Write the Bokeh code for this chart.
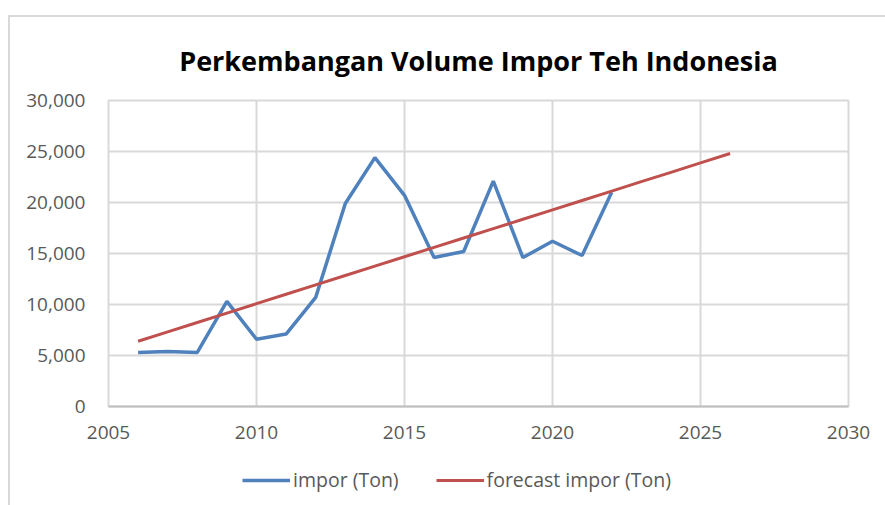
from bokeh.plotting import figure
from bokeh.layouts import column
from bokeh.models import Legend, LegendItem, FixedTicker, NumeralTickFormatter, Range1d
from bokeh.embed import file_html
from bokeh.resources import INLINE

years_impor = [2006, 2007, 2008, 2009, 2010, 2011, 2012, 2013, 2014, 2015, 2016,
               2017, 2018, 2019, 2020, 2021, 2022]
impor_ton = [5300, 5400, 5300, 10300, 6600, 7100, 10700, 19900, 24400, 20700, 14600,
             15200, 22100, 14600, 16200, 14800, 21000]

years_forecast = list(range(2006, 2027))
forecast_ton = [6400, 7320, 8240, 9160, 10080, 11000, 11920, 12840, 13760, 14680, 15600,
                16520, 17440, 18360, 19280, 20200, 21120, 22040, 22960, 23880, 24800]

x_ticks = [2005, 2010, 2015, 2020, 2025, 2030]
y_ticks = [0, 5000, 10000, 15000, 20000, 25000, 30000]

title_text = "Perkembangan Volume Impor Teh Indonesia"
label_impor = "impor (Ton)"
label_forecast = "forecast impor (Ton)"

FONT = "Open Sans"
GRID = "#d9d9d9"
TXT = "#595959"
BLUE = "#4f81bd"
RED = "#c0504d"

p = figure(width=875, height=438, output_backend="svg", toolbar_location=None,
           x_range=Range1d(2005, 2030), y_range=Range1d(0, 30000),
           min_border_left=98, min_border_right=37, min_border_top=83,
           min_border_bottom=49, title=title_text)

p.title.text_font = FONT
p.title.text_font_style = "bold"
p.title.text_font_size = "27px"
p.title.text_color = "#000000"
p.title.align = "center"
p.title.standoff = 44

p.outline_line_color = GRID
p.outline_line_width = 2

p.xaxis.ticker = FixedTicker(ticks=x_ticks)
p.yaxis.ticker = FixedTicker(ticks=y_ticks)
p.yaxis.formatter = NumeralTickFormatter(format="0,0")
for ax in (p.xaxis, p.yaxis):
    ax.major_tick_line_color = None
    ax.minor_tick_line_color = None
    ax.major_label_text_font = FONT
    ax.major_label_text_font_size = "19px"
    ax.major_label_text_color = TXT
p.yaxis.axis_line_color = None
p.xaxis.axis_line_color = "#bfbfbf"
p.xaxis.axis_line_width = 2
p.xaxis.major_label_standoff = 13
p.yaxis.major_label_standoff = 17

p.xgrid.ticker = FixedTicker(ticks=x_ticks)
p.ygrid.ticker = FixedTicker(ticks=y_ticks)
p.grid.grid_line_color = GRID
p.grid.grid_line_width = 2

p.line(years_impor, impor_ton, line_color=BLUE, line_width=3.5)
p.line(years_forecast, forecast_ton, line_color=RED, line_width=3)

# legend strip below the chart: the series are drawn outside its visible range,
# so only their legend entries show
lg = figure(width=875, height=50, output_backend="svg", toolbar_location=None,
            x_range=Range1d(0, 1), y_range=Range1d(0, 1),
            x_axis_location=None, y_axis_location=None,
            min_border_left=0, min_border_right=0, min_border_top=0,
            min_border_bottom=0)
lg.grid.visible = False
lg.outline_line_color = None
k1 = lg.line(years_impor, impor_ton, line_color=BLUE, line_width=3.5)
k2 = lg.line(years_forecast, forecast_ton, line_color=RED, line_width=3)
legend = Legend(items=[LegendItem(label=label_impor, renderers=[k1]),
                       LegendItem(label=label_forecast, renderers=[k2])],
                orientation="horizontal", location=(134, 12),
                label_text_font=FONT, label_text_font_size="19.5px",
                label_text_color=TXT, glyph_width=48, label_standoff=3,
                spacing=37, border_line_color=None, background_fill_alpha=0,
                margin=0, padding=0)
lg.add_layout(legend, "center")

layout = column(p, lg, spacing=0)
layout.margin = (15, 0, 0, 8)
layout.styles = {"border-left": "2px solid #d9d9d9", "border-top": "2px solid #d9d9d9"}

open("out.html", "w").write(file_html(layout, INLINE))
